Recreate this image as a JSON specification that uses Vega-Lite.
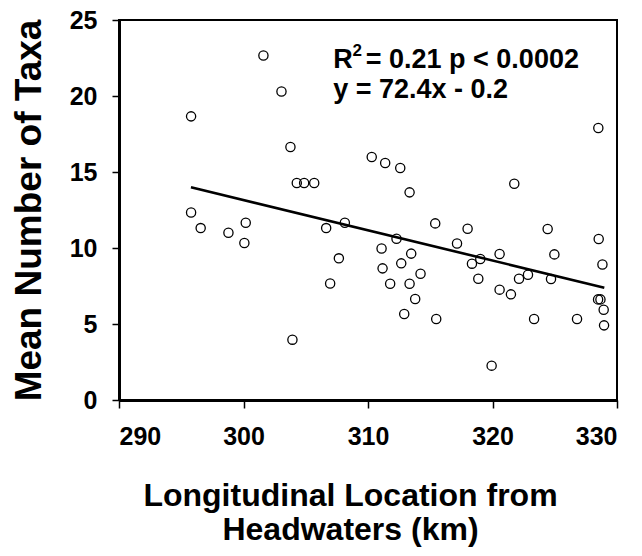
{
  "$schema": "https://vega.github.io/schema/vega-lite/v6.json",
  "width": 498,
  "height": 380,
  "autosize": {"type": "none"},
  "padding": {"left": 119, "top": 20, "right": 25, "bottom": 156},
  "background": "white",
  "config": {
    "view": {"stroke": "black", "strokeWidth": 2},
    "font": "Liberation Sans",
    "axis": {
      "grid": false,
      "domainColor": "black",
      "domainWidth": 3,
      "tickColor": "black",
      "tickWidth": 1.5,
      "labelColor": "black",
      "titleColor": "black",
      "labelFont": "Liberation Sans",
      "titleFont": "Liberation Sans",
      "labelFontWeight": "bold",
      "titleFontWeight": "bold"
    }
  },
  "datasets": {
    "points": [
      {"km": 301.6, "taxa": 22.67},
      {"km": 303.05, "taxa": 20.3},
      {"km": 295.79, "taxa": 18.66},
      {"km": 303.77, "taxa": 16.64},
      {"km": 304.28, "taxa": 14.28},
      {"km": 304.87, "taxa": 14.28},
      {"km": 305.68, "taxa": 14.28},
      {"km": 310.3, "taxa": 15.99},
      {"km": 311.38, "taxa": 15.59},
      {"km": 312.59, "taxa": 15.26},
      {"km": 313.34, "taxa": 13.66},
      {"km": 321.75, "taxa": 14.23},
      {"km": 328.5, "taxa": 17.89},
      {"km": 295.79, "taxa": 12.34},
      {"km": 296.56, "taxa": 11.31},
      {"km": 298.79, "taxa": 11.0},
      {"km": 300.18, "taxa": 11.66},
      {"km": 300.07, "taxa": 10.33},
      {"km": 306.64, "taxa": 11.31},
      {"km": 308.14, "taxa": 11.66},
      {"km": 307.66, "taxa": 9.32},
      {"km": 306.96, "taxa": 7.67},
      {"km": 303.93, "taxa": 3.97},
      {"km": 311.09, "taxa": 9.97},
      {"km": 312.29, "taxa": 10.61},
      {"km": 311.17, "taxa": 8.66},
      {"km": 312.67, "taxa": 8.99},
      {"km": 313.47, "taxa": 9.63},
      {"km": 311.78, "taxa": 7.65},
      {"km": 313.34, "taxa": 7.65},
      {"km": 314.22, "taxa": 8.31},
      {"km": 313.79, "taxa": 6.64},
      {"km": 312.91, "taxa": 5.66},
      {"km": 315.4, "taxa": 11.62},
      {"km": 315.48, "taxa": 5.33},
      {"km": 317.15, "taxa": 10.3},
      {"km": 318.0, "taxa": 11.27},
      {"km": 318.35, "taxa": 8.97},
      {"km": 319.02, "taxa": 9.28},
      {"km": 318.86, "taxa": 7.98},
      {"km": 320.57, "taxa": 9.6},
      {"km": 320.57, "taxa": 7.26},
      {"km": 321.48, "taxa": 6.95},
      {"km": 322.13, "taxa": 7.98},
      {"km": 322.85, "taxa": 8.24},
      {"km": 319.93, "taxa": 2.26},
      {"km": 323.34, "taxa": 5.33},
      {"km": 324.43, "taxa": 11.25},
      {"km": 324.97, "taxa": 9.58},
      {"km": 324.7, "taxa": 7.96},
      {"km": 326.79, "taxa": 5.33},
      {"km": 328.53, "taxa": 10.59},
      {"km": 328.83, "taxa": 8.92},
      {"km": 328.48, "taxa": 6.62},
      {"km": 328.67, "taxa": 6.62},
      {"km": 328.93, "taxa": 5.94},
      {"km": 328.96, "taxa": 4.91}
    ],
    "fit": [
      {"km": 295.78, "taxa": 13.99},
      {"km": 328.98, "taxa": 7.39}
    ],
    "labels": [
      {"km": 307.2, "taxa": 21.84, "text": "R", "size": 27},
      {"km": 308.76, "taxa": 22.6, "text": "2", "size": 17},
      {"km": 309.82, "taxa": 21.84, "text": "= 0.21 p < 0.0002", "size": 27},
      {"km": 307.2, "taxa": 19.87, "text": "y = 72.4x - 0.2", "size": 27}
    ]
  },
  "layer": [
    {
      "data": {"name": "points"},
      "mark": {"type": "point", "filled": false, "stroke": "black", "strokeWidth": 1.3, "size": 85, "opacity": 1},
      "encoding": {
        "x": {
          "field": "km", "type": "quantitative",
          "scale": {"domain": [290, 330], "nice": false, "zero": false},
          "axis": {
            "values": [290, 300, 310, 320, 330],
            "tickSize": 8,
            "labelFontSize": 25,
            "labelPadding": 16,
            "title": ["Longitudinal Location from", "Headwaters (km)"],
            "titleFontSize": 32,
            "titleLineHeight": 34,
            "titleBaseline": "alphabetic",
            "titleX": 231,
            "titleY": 105
          }
        },
        "y": {
          "field": "taxa", "type": "quantitative",
          "scale": {"domain": [0, 25], "nice": false},
          "axis": {
            "values": [0, 5, 10, 15, 20, 25],
            "tickSize": 7,
            "labelFontSize": 25,
            "labelPadding": 15,
            "title": "Mean Number of Taxa",
            "titleFontSize": 37,
            "titleBaseline": "alphabetic",
            "titleAngle": -90,
            "titleX": -79,
            "titleY": 190
          }
        }
      }
    },
    {
      "data": {"name": "fit"},
      "mark": {"type": "line", "color": "black", "strokeWidth": 2.6},
      "encoding": {
        "x": {"field": "km", "type": "quantitative"},
        "y": {"field": "taxa", "type": "quantitative"}
      }
    },
    {
      "data": {"name": "labels"},
      "mark": {"type": "text", "align": "left", "baseline": "alphabetic", "font": "Liberation Sans", "fontWeight": "bold", "color": "black"},
      "encoding": {
        "x": {"field": "km", "type": "quantitative"},
        "y": {"field": "taxa", "type": "quantitative"},
        "text": {"field": "text"},
        "size": {"field": "size", "type": "quantitative", "scale": null}
      }
    }
  ]
}
